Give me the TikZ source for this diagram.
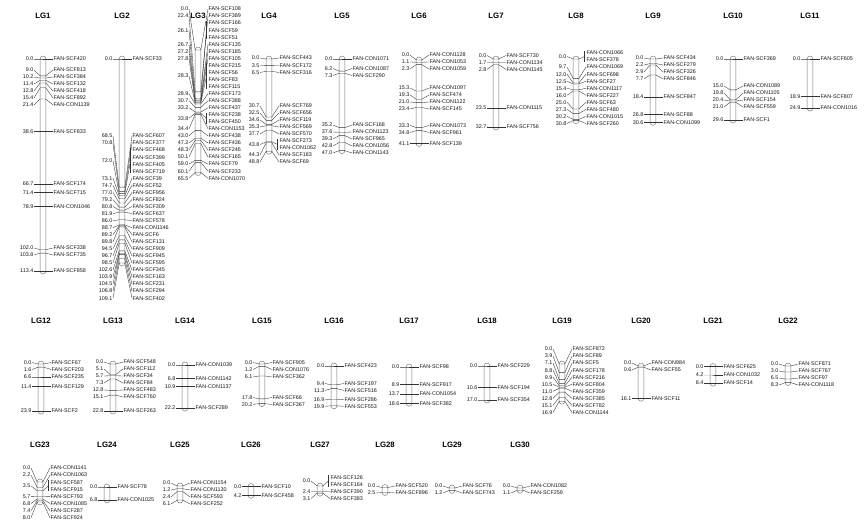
\documentclass[tikz,border=0pt]{standalone}
\usepackage{fontspec}
\setmainfont{Liberation Sans}
\usepackage{tikz}
\usetikzlibrary{positioning}

\tikzset{
  lgtitle/.style={font=\bfseries\fontsize{7.8}{9}\selectfont, inner sep=0pt},
  cmlbl/.style={font=\fontsize{5.4}{6}\selectfont, anchor=east, inner sep=0.5pt, text=black!90},
  mklbl/.style={font=\fontsize{5.4}{6}\selectfont, anchor=west, inner sep=0.5pt, text=black!90},
  lgbar/.style={draw=black!55, fill=white, line width=0.45pt, rounded corners=2.8pt},
  link/.style={draw=black!80, line width=0.35pt},
}
\newcommand{\lblgap}{7.05}

% #1 name, #2 bar x, #3 title y, #4 y of 0 cM, #5 px per cM, #6 length, #7 cM/label y/names
\newcommand{\linkagegroup}[7]{%
  \draw[lgbar] (#2-2.8,#4-3) rectangle (#2+2.8,#4+#5*#6+3);
  \foreach \cmv/\lyv/\nms [count=\j] in {#7} {
    \pgfmathsetmacro\my{#4+#5*\cmv}
    \pgfmathsetmacro\ly{(\lyv==0) ? \my : \lyv}
    \foreach \nm [count=\k] in \nms {\xdef\nnames{\k}}
    \coordinate (#1-l\j) at (#2-2.8,\my);
    \coordinate (#1-r\j) at (#2+2.8,\my);
    \node[cmlbl] (#1-v\j) at (#2-9,\ly) {\cmv};
    \draw[link] (#1-v\j.east) -- (#1-l\j) -- (#1-r\j);
    \foreach \nm [count=\k] in \nms {
      \pgfmathsetmacro\ny{\ly+(\k-(\nnames+1)/2)*\lblgap}
      \node[mklbl] (#1-n\j-\k) at (#2+10,\ny) {\nm};
    }
    \ifnum\nnames>1
      \coordinate (#1-b\j) at (#2+8.5,\ly);
      \draw[link] (#1-r\j) -- (#1-b\j);
      \draw[link] ([shift={(-1.5pt,2pt)}]#1-n\j-1.west) -- ([shift={(-1.5pt,-2pt)}]#1-n\j-\nnames.west);
    \else
      \draw[link] (#1-r\j) -- (#1-n\j-1.west);
    \fi
  }
  \node[lgtitle] (#1) at (#2,#3) {#1};
}

\begin{document}
\begin{tikzpicture}[x=1pt,y=-1pt]
\fill[white] (0,0) rectangle (867,529);
\useasboundingbox (0,0) rectangle (867,529);

% first row
\linkagegroup{LG1}{43}{16}{59}{1.87}{113.4}{0.0/0/{FAN-SCF420}, 9.0/70/{FAN-SCF813}, 10.2/77/{FAN-SCF384}, 11.4/84/{FAN-SCF132}, 12.8/91/{FAN-SCF418}, 15.4/98/{FAN-SCF892}, 21.4/105/{FAN-CON1139}, 38.6/0/{FAN-SCF833}, 66.7/0/{FAN-SCF174}, 71.4/0/{FAN-SCF715}, 78.9/0/{FAN-CON1046}, 102.0/248/{FAN-SCF338}, 103.8/255/{FAN-SCF735}, 113.4/0/{FAN-SCF858}}
\linkagegroup{LG2}{122}{16}{59}{1.87}{109.1}{0.0/0/{FAN-SCF33}, 68.5/136/{FAN-SCF607}, 70.8/143.1/{FAN-SCF377}, 72.0/160.7/{FAN-SCF468,FAN-SCF399,FAN-SCF405,FAN-SCF719}, 73.1/178.3/{FAN-SCF39}, 74.7/185.4/{FAN-SCF52}, 77.0/192.4/{FAN-SCF956}, 79.2/199.5/{FAN-SCF824}, 80.8/206.5/{FAN-SCF309}, 81.9/213.6/{FAN-SCF637}, 86.0/220.6/{FAN-SCF578}, 88.7/227.7/{FAN-CON1146}, 89.2/234.7/{FAN-SCF6}, 89.8/241.8/{FAN-SCF131}, 94.5/248.8/{FAN-SCF909}, 96.7/255.9/{FAN-SCF945}, 98.5/262.9/{FAN-SCF595}, 102.6/270/{FAN-SCF345}, 103.9/277/{FAN-SCF163}, 104.5/284.1/{FAN-SCF231}, 106.8/291.1/{FAN-SCF294}, 109.1/298.2/{FAN-SCF402}}
\linkagegroup{LG3}{198}{16}{50}{1.87}{65.5}{0.0/9/{FAN-SCF108}, 22.4/16.05/{FAN-SCF389}, 26.1/30.15/{FAN-SCF166,FAN-SCF59,FAN-SCF51}, 26.7/44.25/{FAN-SCF135}, 27.2/51.3/{FAN-SCF185}, 27.8/58.35/{FAN-SCF105}, 28.3/75.98/{FAN-SCF215,FAN-SCF56,FAN-SCF83,FAN-SCF115}, 28.9/93.6/{FAN-SCF173}, 30.7/100.65/{FAN-SCF388}, 33.2/107.7/{FAN-SCF437}, 33.8/118.28/{FAN-SCF238,FAN-SCF450}, 34.4/128.85/{FAN-CON1153}, 43.0/135.9/{FAN-SCF438}, 47.2/142.95/{FAN-SCF436}, 48.3/150/{FAN-SCF246}, 50.1/157.05/{FAN-SCF165}, 59.0/164.1/{FAN-SCF79}, 60.1/171.15/{FAN-SCF233}, 65.5/178.2/{FAN-CON1070}}
\linkagegroup{LG4}{269}{16}{59}{1.89}{48.8}{0.0/58/{FAN-SCF443}, 3.5/65.5/{FAN-SCF172}, 6.5/72.5/{FAN-SCF316}, 30.7/106/{FAN-SCF769}, 32.5/113/{FAN-SCF656}, 34.6/120/{FAN-SCF119}, 35.3/127/{FAN-SCF569}, 37.7/134/{FAN-SCF570}, 43.8/144.5/{FAN-SCF273,FAN-CON1062}, 44.3/155/{FAN-SCF183}, 48.8/162/{FAN-SCF69}}
\linkagegroup{LG5}{342}{16}{59}{1.95}{47.0}{0.0/0/{FAN-CON1071}, 6.2/68.5/{FAN-CON1087}, 7.3/75.5/{FAN-SCF290}, 35.2/125/{FAN-SCF168}, 37.6/132/{FAN-CON1123}, 39.3/139/{FAN-SCF965}, 42.8/146/{FAN-CON1056}, 47.0/153/{FAN-CON1143}}
\linkagegroup{LG6}{419}{16}{60}{2.03}{41.1}{0.0/55/{FAN-CON1128}, 1.1/62/{FAN-CON1053}, 2.3/69/{FAN-CON1059}, 15.3/88/{FAN-CON1097}, 19.3/95/{FAN-SCF474}, 21.0/102/{FAN-CON1122}, 23.4/109/{FAN-SCF145}, 33.3/125.5/{FAN-CON1073}, 34.8/132.5/{FAN-SCF961}, 41.1/0/{FAN-SCF139}}
\linkagegroup{LG7}{496}{16}{59}{2.08}{32.7}{0.0/55.5/{FAN-SCF730}, 1.7/62.5/{FAN-CON1134}, 2.8/69.5/{FAN-CON1145}, 23.5/0/{FAN-CON1115}, 32.7/0/{FAN-SCF756}}
\linkagegroup{LG8}{576}{16}{59}{2.0}{30.8}{0.0/56.5/{FAN-CON1066,FAN-SCF378}, 9.7/67.1/{FAN-CON1069}, 12.0/74.15/{FAN-SCF698}, 12.5/81.2/{FAN-SCF27}, 15.4/88.25/{FAN-CON1117}, 16.0/95.3/{FAN-SCF227}, 25.0/102.35/{FAN-SCF63}, 27.3/109.4/{FAN-SCF480}, 30.2/116.45/{FAN-CON1015}, 30.8/123.5/{FAN-SCF260}}
\linkagegroup{LG9}{653}{16}{59}{2.07}{30.6}{0.0/58/{FAN-SCF434}, 2.2/65/{FAN-SCF279}, 2.9/72/{FAN-SCF326}, 7.7/79/{FAN-SCF846}, 18.4/0/{FAN-SCF847}, 26.8/0/{FAN-SCF88}, 30.6/0/{FAN-CON1099}}
\linkagegroup{LG10}{733}{16}{59}{2.06}{29.6}{0.0/0/{FAN-SCF369}, 15.0/86/{FAN-CON1089}, 19.8/93/{FAN-CON1105}, 20.4/100/{FAN-SCF154}, 21.0/107/{FAN-SCF559}, 29.6/0/{FAN-SCF1}}
\linkagegroup{LG11}{810}{16}{59}{1.97}{24.9}{0.0/0/{FAN-SCF605}, 18.9/0/{FAN-SCF807}, 24.9/0/{FAN-CON1016}}

% second row
\linkagegroup{LG12}{41}{321}{364}{1.97}{23.9}{0.0/362.5/{FAN-SCF67}, 1.6/369.5/{FAN-SCF203}, 6.6/0/{FAN-SCF235}, 11.4/0/{FAN-SCF129}, 23.9/0/{FAN-SCF2}}
\linkagegroup{LG13}{113}{321}{364}{2.06}{22.8}{0.0/362/{FAN-SCF548}, 5.1/369/{FAN-SCF112}, 5.7/376/{FAN-SCF34}, 7.3/383/{FAN-SCF84}, 12.8/390/{FAN-SCF483}, 15.1/397/{FAN-SCF760}, 22.8/0/{FAN-SCF263}}
\linkagegroup{LG14}{185}{321}{365}{1.94}{22.2}{0.0/0/{FAN-CON1039}, 6.8/0/{FAN-CON1142}, 10.9/0/{FAN-CON1137}, 22.2/0/{FAN-SCF289}}
\linkagegroup{LG15}{262}{321}{364}{1.96}{20.2}{0.0/362.5/{FAN-SCF905}, 1.2/369.5/{FAN-CON1076}, 6.1/377/{FAN-SCF362}, 17.8/397.5/{FAN-SCF66}, 20.2/404.5/{FAN-SCF367}}
\linkagegroup{LG16}{334}{321}{366}{2.0}{19.9}{0.0/0/{FAN-SCF423}, 9.4/383.5/{FAN-SCF197}, 11.3/390.5/{FAN-SCF516}, 16.9/399.2/{FAN-SCF286}, 19.9/406.3/{FAN-SCF553}}
\linkagegroup{LG17}{409}{321}{367}{1.95}{18.6}{0.0/0/{FAN-SCF98}, 8.9/0/{FAN-SCF917}, 13.7/0/{FAN-CON1054}, 18.6/0/{FAN-SCF382}}
\linkagegroup{LG18}{487}{321}{366}{2.0}{17.0}{0.0/0/{FAN-SCF229}, 10.6/0/{FAN-SCF194}, 17.0/0/{FAN-SCF354}}
\linkagegroup{LG19}{562}{321}{364}{2.2}{16.9}{0.0/349/{FAN-SCF872}, 3.9/356.1/{FAN-SCF89}, 7.1/363.1/{FAN-SCF5}, 8.8/370.2/{FAN-SCF178}, 9.9/377.2/{FAN-SCF216}, 10.5/384.3/{FAN-SCF804}, 11.0/391.3/{FAN-SCF359}, 12.8/398.4/{FAN-SCF385}, 15.1/405.4/{FAN-SCF782}, 16.9/412.5/{FAN-CON1144}}
\linkagegroup{LG20}{641}{321}{366}{2.0}{16.1}{0.0/363/{FAN-CON984}, 0.6/370/{FAN-SCF55}, 16.1/0/{FAN-SCF11}}
\linkagegroup{LG21}{713}{321}{366.5}{1.98}{8.4}{0.0/0/{FAN-SCF625}, 4.2/0/{FAN-CON1032}, 8.4/0/{FAN-SCF14}}
\linkagegroup{LG22}{788}{321}{366}{2.0}{8.3}{0.0/364/{FAN-SCF871}, 3.0/371/{FAN-SCF767}, 6.5/378/{FAN-SCF97}, 8.3/385/{FAN-CON1118}}

% third row
\linkagegroup{LG23}{40}{445}{482}{2.5}{8.0}{0.0/468/{FAN-CON1141}, 2.2/475.1/{FAN-CON1063}, 3.5/485.8/{FAN-SCF587,FAN-SCF915}, 5.7/496.4/{FAN-SCF793}, 6.8/503.5/{FAN-CON1085}, 7.4/510.6/{FAN-SCF287}, 8.0/517.7/{FAN-SCF924}}
\linkagegroup{LG24}{107}{445}{487}{1.9}{6.8}{0.0/0/{FAN-SCF78}, 6.8/0/{FAN-CON1025}}
\linkagegroup{LG25}{180}{445}{486}{2.3}{6.1}{0.0/483/{FAN-CON1154}, 1.2/490/{FAN-CON1130}, 2.4/497/{FAN-SCF593}, 6.1/504/{FAN-SCF252}}
\linkagegroup{LG26}{251}{445}{486.5}{2.1}{4.2}{0.0/0/{FAN-SCF10}, 4.2/0/{FAN-SCF458}}
\linkagegroup{LG27}{320}{445}{486}{2.3}{3.1}{0.0/481/{FAN-SCF126,FAN-SCF164}, 2.4/491.5/{FAN-SCF390}, 3.1/498.5/{FAN-SCF383}}
\linkagegroup{LG28}{385}{445}{487.5}{2.0}{2.5}{0.0/486/{FAN-SCF520}, 2.5/493/{FAN-SCF896}}
\linkagegroup{LG29}{452}{445}{488}{2.0}{1.2}{0.0/486/{FAN-SCF76}, 1.2/493/{FAN-SCF743}}
\linkagegroup{LG30}{520}{445}{488}{2.0}{1.1}{0.0/486/{FAN-CON1082}, 1.1/493/{FAN-SCF259}}
\end{tikzpicture}
\end{document}
